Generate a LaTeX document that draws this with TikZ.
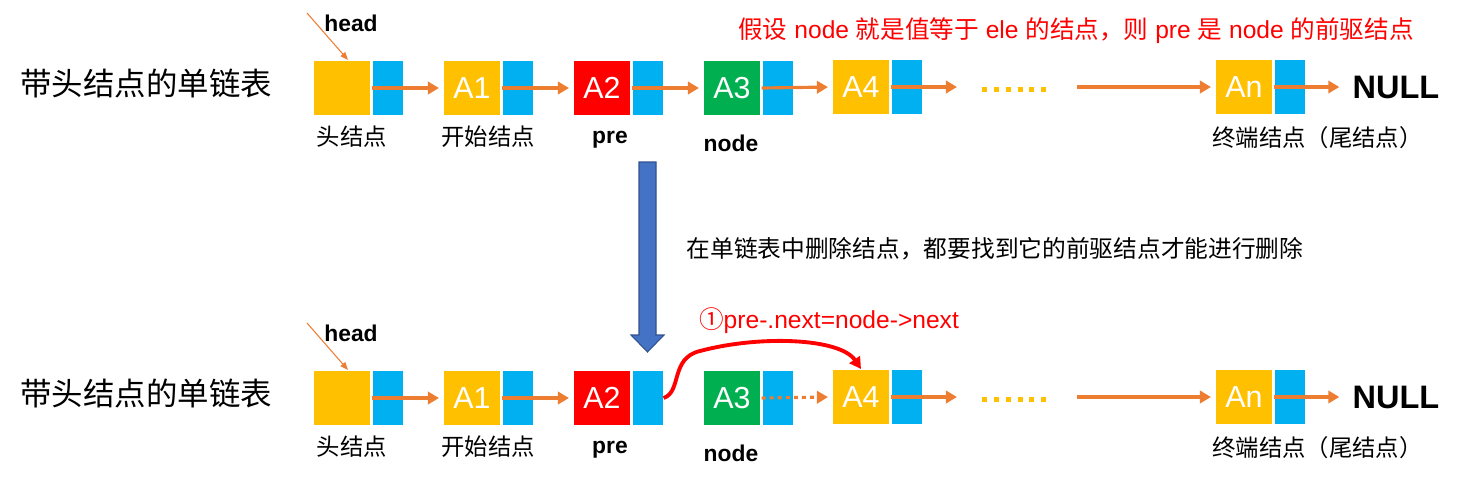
\documentclass[tikz,border=0pt]{standalone}
\usepackage{fontspec}
\setmainfont{Liberation Sans}
\newfontfamily\cjk{Noto Sans CJK SC}
\usetikzlibrary{arrows.meta,positioning,calc}
\definecolor{Gold}{HTML}{FFC000}
\definecolor{Cyan}{HTML}{00B0F0}
\definecolor{Ruby}{HTML}{FF0000}
\definecolor{Leaf}{HTML}{00B050}
\definecolor{Rust}{HTML}{ED7D31}
\definecolor{Steel}{HTML}{4472C4}
\definecolor{SteelDark}{HTML}{2F528F}
\tikzset{
  databox/.style={draw=white,line width=0.6pt,minimum width=1.16cm,minimum height=1.1cm,
    inner sep=0pt,text=white,font=\fontsize{17.3}{18}\selectfont},
  ptrbox/.style={draw=white,line width=0.6pt,fill=Cyan,minimum width=0.62cm,
    minimum height=1.1cm,inner sep=0pt},
  rowtitle/.style={inner sep=0pt,font=\cjk\fontsize{17.9}{20}\selectfont},
  cnlbl/.style={inner sep=0pt,font=\cjk\fontsize{13.3}{15}\selectfont},
  namelbl/.style={inner sep=0pt,font=\bfseries\fontsize{13}{15}\selectfont},
  nulltext/.style={inner sep=0pt,font=\bfseries\fontsize{18.5}{20}\selectfont},
  note/.style={inner sep=0pt,font=\fontsize{14}{16}\selectfont},
  link/.style={-{Triangle[length=6.3pt,width=7pt]},line width=1.8pt,color=Rust},
  dottedlink/.style={link,dash pattern=on 2.3pt off 2.3pt},
  thinlink/.style={-{Triangle[length=4.5pt,width=3.5pt]},line width=0.6pt,color=Rust},
  skiplink/.style={-{Triangle[length=6.5pt,width=7pt]},line width=2.2pt,color=Ruby},
  dotrow/.style={line width=2.85pt,color=Gold,dash pattern=on 2.85pt off 3.9pt}
}
\begin{document}
\begin{tikzpicture}[x=0.02cm,y=-0.02cm]
  \useasboundingbox (0,0) rectangle (1464,481);
  % both lists
  \foreach \r/\dy in {t/0,b/310}{
    \node[rowtitle,anchor=west] (\r-title) at (20,83+\dy) {带头结点的单链表};
    \node[databox,fill=Gold] (\r-head) at (342,88+\dy) {};
    \node[ptrbox,right=0pt of \r-head] (\r-headp) {};
    \node[databox,fill=Gold] (\r-a1) at (472,88+\dy) {A1};
    \node[ptrbox,right=0pt of \r-a1] (\r-a1p) {};
    \node[databox,fill=Ruby] (\r-a2) at (602,88+\dy) {A2};
    \node[ptrbox,right=0pt of \r-a2] (\r-a2p) {};
    \node[databox,fill=Leaf] (\r-a3) at (732,88+\dy) {A3};
    \node[ptrbox,right=0pt of \r-a3] (\r-a3p) {};
    \node[databox,fill=Gold] (\r-a4) at (861,87+\dy) {A4};
    \node[ptrbox,right=0pt of \r-a4] (\r-a4p) {};
    \node[databox,fill=Gold] (\r-an) at (1244,87+\dy) {An};
    \node[ptrbox,right=0pt of \r-an] (\r-anp) {};
    \node[nulltext] (\r-null) at (1396,87+\dy) {NULL};
    % labels
    \node[namelbl] (\r-headlbl) at (351,23+\dy) {head};
    \node[cnlbl] (\r-hlbl) at (352,137+\dy) {头结点};
    \node[cnlbl] (\r-a1lbl) at (488,137+\dy) {开始结点};
    \node[namelbl] (\r-prelbl) at (610,140+\dy) {pre};
    \node[namelbl] (\r-nodelbl) at (731,143+\dy) {node};
    \node[cnlbl,anchor=west] (\r-anlbl) at (1212,138+\dy) {终端结点（尾结点）};
    % gap in the list
    \coordinate (\r-gapa) at (957,87+\dy);
    \coordinate (\r-gapb) at (1077,87+\dy);
    \coordinate (\r-dots) at (982,89+\dy);
    \coordinate (\r-headtail) at (307,13+\dy);
    \draw[dotrow] (\r-dots) -- ++(66,0);
    \draw[thinlink] (\r-headtail) -- ($(\r-head.north)+(6,0)$);
    \draw[link,shorten >=2pt] (\r-headp.west) -- (\r-a1.west);
    \draw[link,shorten >=2pt] (\r-a1p.west) -- (\r-a2.west);
    \draw[link] (\r-a4p.west) -- (\r-gapa);
    \draw[link,shorten >=2pt] (\r-gapb) -- (\r-an.west);
    \draw[link,shorten >=0.26cm] (\r-anp.west) -- (\r-null.west);
  }
  % before deletion
  \draw[link,shorten >=2pt] (t-a2p.west) -- (t-a3.west);
  \draw[link,shorten >=2pt] (t-a3p.west) -- (t-a4.west);
  \node[note,text=Ruby] (cond) at (1076,31)
    {{\cjk 假设} node {\cjk 就是值等于} ele {\cjk 的结点，则} pre {\cjk 是} node {\cjk 的前驱结点}};
  % step arrow
  \draw[fill=Steel,draw=SteelDark,line width=0.6pt]
    (639,162) -- (656,162) -- (656,335) -- (664,335) -- (647.5,352) -- (631,335) -- (639,335) -- cycle;
  \node[note,font=\cjk\fontsize{13.5}{16}\selectfont] (rule) at (995,249)
    {在单链表中删除结点，都要找到它的前驱结点才能进行删除};
  % after deletion
  \draw[dottedlink,shorten >=2pt] (b-a3p.west) -- (b-a4.west);
  \draw[skiplink] (b-a2p.east) .. controls (682,392) and (670,358) .. (700,351)
    .. controls (760,335) and (840,338) .. (b-a4.north);
  \node[note,text=Ruby] (step1) at (829,321) {{\cjk ①}pre-.next=node->next};
\end{tikzpicture}
\end{document}
